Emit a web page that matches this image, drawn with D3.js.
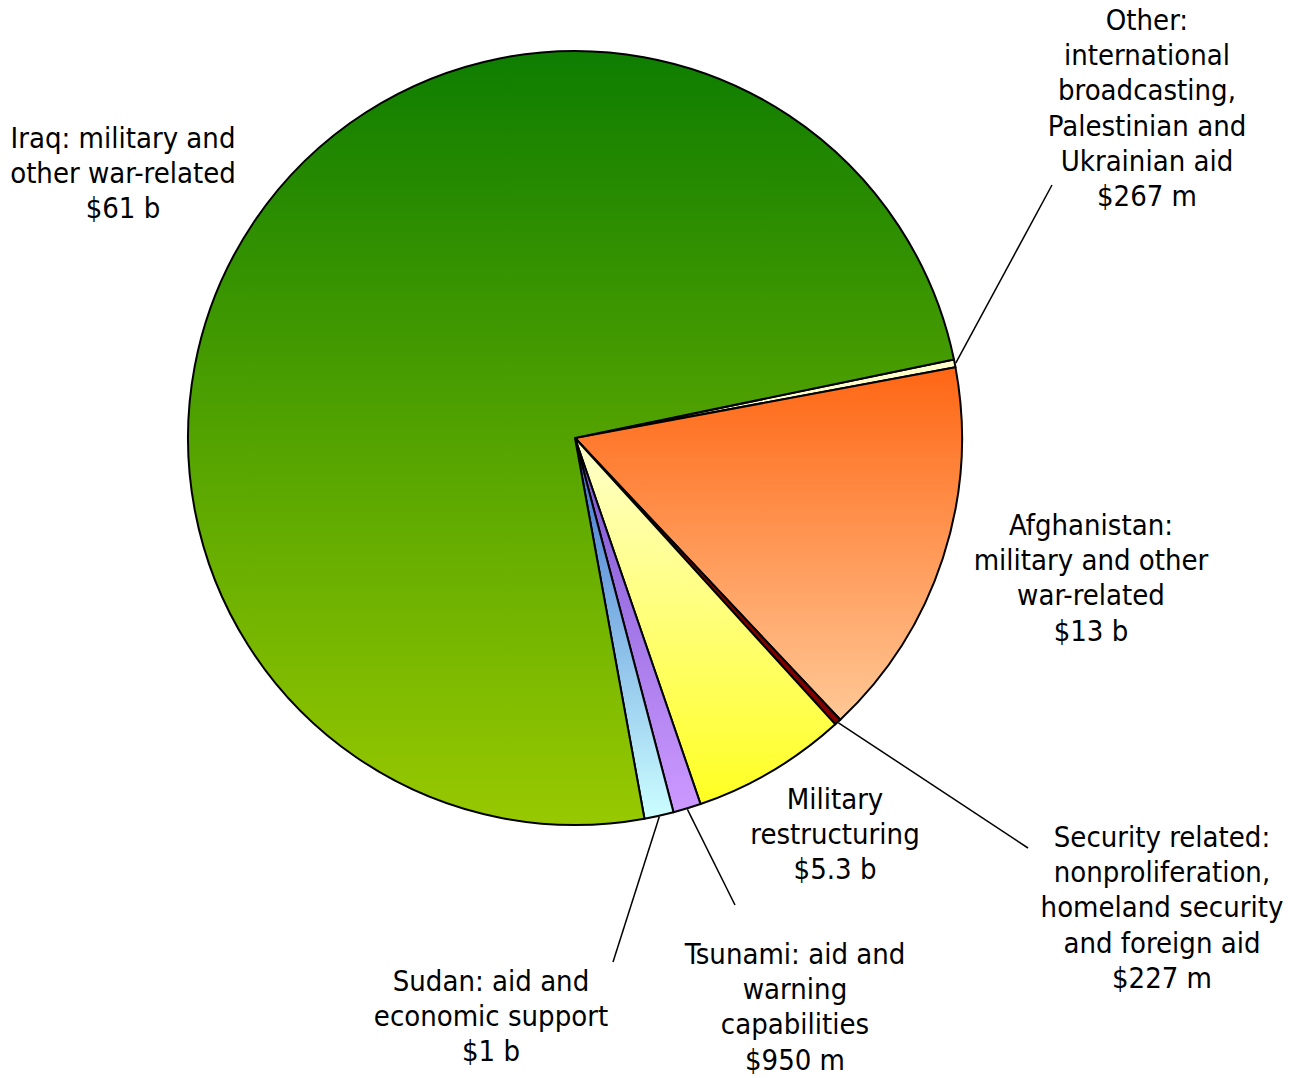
<!DOCTYPE html>
<html><head><meta charset="utf-8">
<script src="https://cdn.jsdelivr.net/npm/d3@7"></script>
<style>body{margin:0;background:#fff}svg{display:block}</style>
</head><body>
<script>
const categories = ["Other","Afghanistan","Security","Military restructuring","Tsunami","Sudan","Iraq"];
const values = [0.267, 13, 0.227, 5.3, 0.95, 1, 61];
const labels = [
  ["Other:","international","broadcasting,","Palestinian and","Ukrainian aid","$267 m"],
  ["Afghanistan:","military and other","war-related","$13 b"],
  ["Security related:","nonproliferation,","homeland security","and foreign aid","$227 m"],
  ["Military","restructuring","$5.3 b"],
  ["Tsunami: aid and","warning","capabilities","$950 m"],
  ["Sudan: aid and","economic support","$1 b"],
  ["Iraq: military and","other war-related","$61 b"]
];
const gradTop = ["#FFFFCC","#FF6614","#800000","#FFFFCC","#7A55D0","#3C6FCC","#0E7D00"];
const gradBot = ["#FFFFCC","#FFC896","#800000","#FFFF22","#CC99FF","#CCFFFF","#98C900"];

const W = 1299, H = 1078, cx = 575, cy = 438, R = 387;
const svg = d3.select("body").append("svg").attr("width", W).attr("height", H);
const defs = svg.append("defs");
categories.forEach((c, i) => {
  const g = defs.append("linearGradient").attr("id", "g" + i)
    .attr("x1", 0).attr("y1", 0).attr("x2", 0).attr("y2", 1);
  g.append("stop").attr("offset", "0%").attr("stop-color", gradTop[i]);
  g.append("stop").attr("offset", "100%").attr("stop-color", gradBot[i]);
});

const a0 = 78.3 * Math.PI / 180;
const pie = d3.pie().sort(null).value(d => d)
  .startAngle(a0).endAngle(a0 + 2 * Math.PI);
const arcs = pie(values);
const arc = d3.arc().innerRadius(0).outerRadius(R);

const gp = svg.append("g").attr("transform", `translate(${cx},${cy})`);
gp.selectAll("path").data(arcs).enter().append("path")
  .attr("d", arc)
  .attr("fill", (d, i) => `url(#g${i})`)
  .attr("stroke", "#000").attr("stroke-width", 2).attr("stroke-linejoin", "round");

const leaders = [
  {i: 0, end: [1052, 185]},
  {i: 2, end: [1028, 848]},
  {i: 4, end: [735, 905]},
  {i: 5, end: [613, 962]}
];
leaders.forEach(l => {
  const a = arcs[l.i];
  const m = (a.startAngle + a.endAngle) / 2;
  const x0 = cx + Math.sin(m) * (R + 1), y0 = cy - Math.cos(m) * (R + 1);
  svg.append("line").attr("x1", x0).attr("y1", y0).attr("x2", l.end[0]).attr("y2", l.end[1])
    .attr("stroke", "#000").attr("stroke-width", 1.5);
});

const labelPos = [[1147, 30],[1091, 535],[1162, 847],[835, 809],[795, 964],[491, 991],[123, 148]];
const lh = 35.2;
labels.forEach((lines, i) => {
  const t = svg.append("text").attr("text-anchor", "middle")
    .attr("font-family", "'DejaVu Sans Condensed','DejaVu Sans',sans-serif")
    .attr("font-stretch", "condensed")
    .attr("font-size", 29).attr("fill", "#000");
  lines.forEach((s, k) => {
    t.append("tspan").attr("x", labelPos[i][0]).attr("y", labelPos[i][1] + k * lh).text(s);
  });
});
</script>
</body></html>
